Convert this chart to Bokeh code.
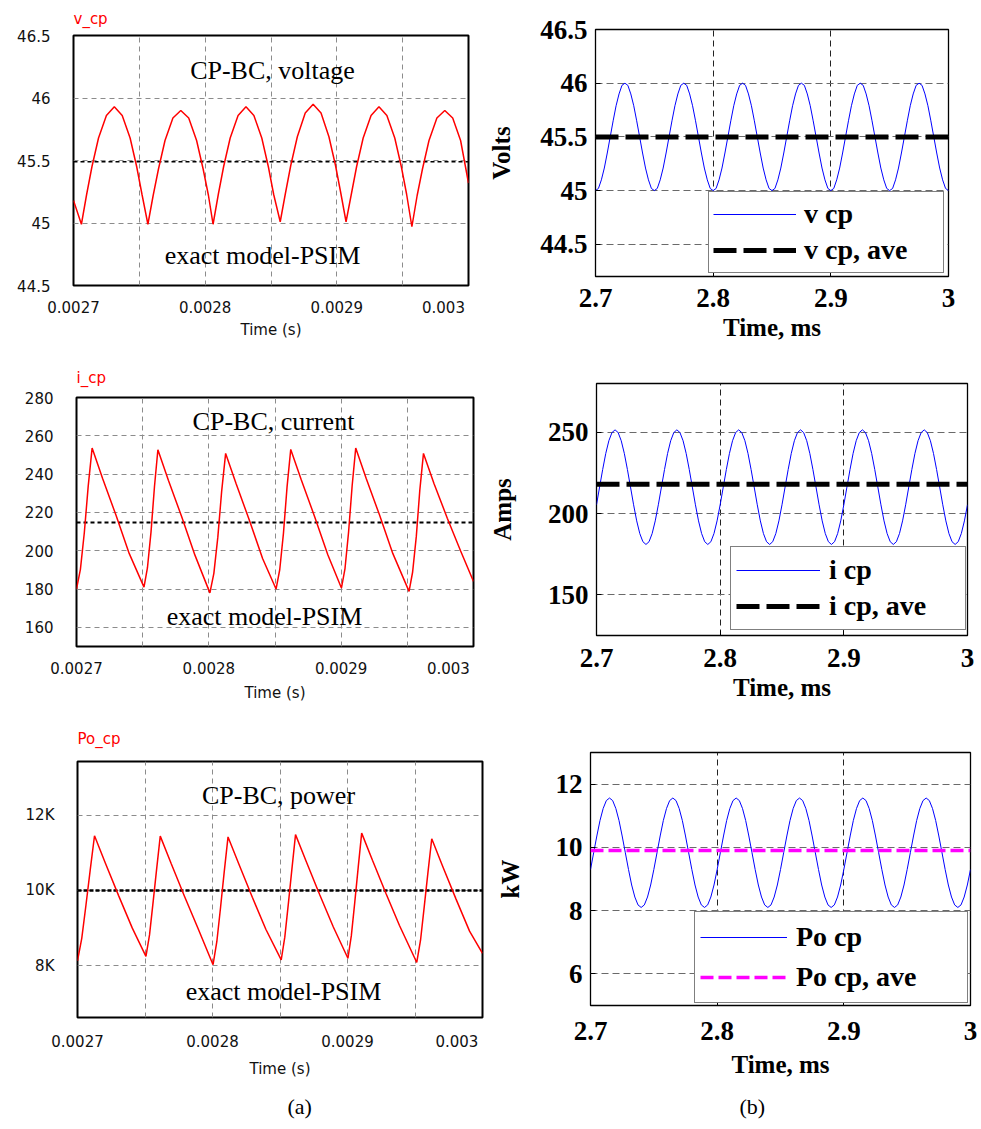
import numpy as np
from bokeh.plotting import figure
from bokeh.layouts import column, row
from bokeh.models import Range1d, FixedTicker, Label, Legend, LegendItem, Title
from bokeh.embed import file_html
from bokeh.resources import INLINE

SERIF = "Liberation Serif"
SANS = "DejaVu Sans"

# ---------------- (a) exact model - PSIM (time in microseconds after 2.7 ms) ----------------
T0_S = 0.0027
v_psim_us = [0, 6, 10, 14, 19, 25, 31, 37, 43, 48, 52,
             56.5, 60.5, 64.5, 69.5, 75.5, 81.5, 87.5, 93.5, 98.5, 102.5,
             106, 110, 114, 119, 125, 131, 137, 143, 148, 152,
             157, 161, 165, 170, 176, 182, 188, 194, 199, 203,
             207, 211, 215, 220, 226, 232, 238, 244, 249, 253,
             257, 261, 265, 270, 276, 282, 288, 294, 300]
v_psim = [45.18, 44.99, 45.23, 45.45, 45.68, 45.86, 45.93, 45.86, 45.68, 45.45, 45.23,
          44.99, 45.22, 45.43, 45.66, 45.84, 45.90, 45.84, 45.66, 45.43, 45.22,
          44.99, 45.23, 45.45, 45.68, 45.86, 45.93, 45.86, 45.68, 45.45, 45.23,
          45.01, 45.24, 45.46, 45.69, 45.88, 45.95, 45.88, 45.69, 45.46, 45.24,
          45.01, 45.23, 45.45, 45.68, 45.86, 45.93, 45.86, 45.68, 45.45, 45.23,
          44.97, 45.22, 45.43, 45.66, 45.84, 45.90, 45.84, 45.66, 45.32]
v_psim_ave = 45.49

i_psim_us = [0, 2.95, 5.9, 8.85, 11.8, 19.8, 29.8, 39.8,
             51, 53.6, 56.3, 58.9, 61.5, 69.5, 79.5, 89.5,
             100.8, 103.8, 106.8, 109.7, 112.7, 120.7, 130.7, 140.7,
             150.8, 153.6, 156.4, 159.1, 161.9, 169.9, 179.9, 189.9,
             200.2, 202.9, 205.6, 208.3, 211.0, 219.0, 229.0, 239.0,
             251.3, 254.0, 256.8, 259.4, 262.2, 270.2, 280.2, 290.2, 300]
i_psim = [180, 190.3, 209.4, 233.7, 253.6, 237.6, 218.6, 198.6,
          181, 191.0, 209.7, 233.3, 252.7, 236.7, 217.7, 197.7,
          178, 188.2, 207.1, 231.1, 250.8, 234.8, 215.8, 195.8,
          180, 190.2, 209.2, 233.2, 252.9, 236.9, 217.9, 197.9,
          180.5, 190.7, 209.7, 233.9, 253.6, 237.6, 218.6, 198.6,
          178.8, 188.9, 207.6, 231.4, 250.8, 235.0, 217.0, 200.0, 184]
i_psim_ave = 214.8

p_psim_us = [0, 3.15, 6.3, 9.45, 12.6, 20.6, 30.6, 40.6,
             50.7, 53.35, 56.0, 58.65, 61.3, 69.3, 79.3, 89.3,
             100.4, 103.2, 106.0, 108.7, 111.5, 119.5, 129.5, 139.5,
             150.9, 153.55, 156.2, 158.85, 161.5, 169.5, 179.5, 189.5,
             200.3, 202.85, 205.4, 207.95, 210.5, 218.5, 228.5, 238.5,
             251.3, 254.1, 256.85, 259.6, 262.4, 270.4, 280.4, 290.4, 300]
p_psim = [8130, 8730, 9620, 10550, 11450, 10730, 9850, 9000,
          8250, 8820, 9690, 10580, 11440, 10720, 9840, 8990,
          8030, 8640, 9560, 10500, 11420, 10700, 9820, 8970,
          8160, 8760, 9650, 10580, 11480, 10760, 9880, 9030,
          8200, 8800, 9690, 10620, 11520, 10800, 9920, 9070,
          8090, 8680, 9570, 10480, 11370, 10650, 9770, 8920, 8330]
p_psim_ave = 10000

# ---------------- (b) averaged model (time in ms, 0.0025 ms steps) ----------------
t_ms = np.linspace(2.7, 3.0, 121)
v_avg = [45.00, 45.02, 45.10, 45.21, 45.35, 45.50, 45.65, 45.79, 45.90, 45.98, 46.00, 45.98, 45.90, 45.79, 45.65, 45.50, 45.35, 45.21, 45.10, 45.02,
         45.00, 45.02, 45.10, 45.21, 45.35, 45.50, 45.65, 45.79, 45.90, 45.98, 46.00, 45.98, 45.90, 45.79, 45.65, 45.50, 45.35, 45.21, 45.10, 45.02,
         45.00, 45.02, 45.10, 45.21, 45.35, 45.50, 45.65, 45.79, 45.90, 45.98, 46.00, 45.98, 45.90, 45.79, 45.65, 45.50, 45.35, 45.21, 45.10, 45.02,
         45.00, 45.02, 45.10, 45.21, 45.35, 45.50, 45.65, 45.79, 45.90, 45.98, 46.00, 45.98, 45.90, 45.79, 45.65, 45.50, 45.35, 45.21, 45.10, 45.02,
         45.00, 45.02, 45.10, 45.21, 45.35, 45.50, 45.65, 45.79, 45.90, 45.98, 46.00, 45.98, 45.90, 45.79, 45.65, 45.50, 45.35, 45.21, 45.10, 45.02,
         45.00, 45.02, 45.10, 45.21, 45.35, 45.50, 45.65, 45.79, 45.90, 45.98, 46.00, 45.98, 45.90, 45.79, 45.65, 45.50, 45.35, 45.21, 45.10, 45.02,
         45.00]
v_avg_ave = 45.5

i_avg = [205.4, 216.3, 227.1, 237.0, 244.8, 249.8, 251.5, 249.8, 244.8, 237.0, 227.1, 216.3, 205.4, 195.5, 187.7, 182.7, 181.0, 182.7, 187.7, 195.5,
         205.4, 216.3, 227.1, 237.0, 244.8, 249.8, 251.5, 249.8, 244.8, 237.0, 227.1, 216.3, 205.4, 195.5, 187.7, 182.7, 181.0, 182.7, 187.7, 195.5,
         205.4, 216.3, 227.1, 237.0, 244.8, 249.8, 251.5, 249.8, 244.8, 237.0, 227.1, 216.3, 205.4, 195.5, 187.7, 182.7, 181.0, 182.7, 187.7, 195.5,
         205.4, 216.3, 227.1, 237.0, 244.8, 249.8, 251.5, 249.8, 244.8, 237.0, 227.1, 216.3, 205.4, 195.5, 187.7, 182.7, 181.0, 182.7, 187.7, 195.5,
         205.4, 216.3, 227.1, 237.0, 244.8, 249.8, 251.5, 249.8, 244.8, 237.0, 227.1, 216.3, 205.4, 195.5, 187.7, 182.7, 181.0, 182.7, 187.7, 195.5,
         205.4, 216.3, 227.1, 237.0, 244.8, 249.8, 251.5, 249.8, 244.8, 237.0, 227.1, 216.3, 205.4, 195.5, 187.7, 182.7, 181.0, 182.7, 187.7, 195.5,
         205.4]
i_avg_ave = 218.0

p_avg = [9.30, 9.83, 10.36, 10.85, 11.23, 11.48, 11.56, 11.48, 11.23, 10.85, 10.36, 9.83, 9.30, 8.81, 8.43, 8.18, 8.10, 8.18, 8.43, 8.81,
         9.30, 9.83, 10.36, 10.85, 11.23, 11.48, 11.56, 11.48, 11.23, 10.85, 10.36, 9.83, 9.30, 8.81, 8.43, 8.18, 8.10, 8.18, 8.43, 8.81,
         9.30, 9.83, 10.36, 10.85, 11.23, 11.48, 11.56, 11.48, 11.23, 10.85, 10.36, 9.83, 9.30, 8.81, 8.43, 8.18, 8.10, 8.18, 8.43, 8.81,
         9.30, 9.83, 10.36, 10.85, 11.23, 11.48, 11.56, 11.48, 11.23, 10.85, 10.36, 9.83, 9.30, 8.81, 8.43, 8.18, 8.10, 8.18, 8.43, 8.81,
         9.30, 9.83, 10.36, 10.85, 11.23, 11.48, 11.56, 11.48, 11.23, 10.85, 10.36, 9.83, 9.30, 8.81, 8.43, 8.18, 8.10, 8.18, 8.43, 8.81,
         9.30, 9.83, 10.36, 10.85, 11.23, 11.48, 11.56, 11.48, 11.23, 10.85, 10.36, 9.83, 9.30, 8.81, 8.43, 8.18, 8.10, 8.18, 8.43, 8.81,
         9.30]
p_avg_ave = 9.9

# tick labels
psim_xticks = [0.0027, 0.0028, 0.0029, 0.002981]
psim_xlabels = ["0.0027", "0.0028", "0.0029", "0.003"]
psim_xgrid = [0.00275, 0.0028, 0.00285, 0.0029, 0.00295]
v_psim_yticks = [44.5, 45, 45.5, 46, 46.5]
v_psim_ylabels = ["44.5", "45", "45.5", "46", "46.5"]
i_psim_yticks = [160, 180, 200, 220, 240, 260, 280]
i_psim_ylabels = ["160", "180", "200", "220", "240", "260", "280"]
p_psim_yticks = [8000, 10000, 12000]
p_psim_ylabels = ["8K", "10K", "12K"]

avg_xticks = [2.7, 2.8, 2.9, 3.0]
avg_xlabels = ["2.7", "2.8", "2.9", "3"]
v_avg_yticks = [44.5, 45, 45.5, 46, 46.5]
v_avg_ylabels = ["44.5", "45", "45.5", "46", "46.5"]
i_avg_yticks = [150, 200, 250]
i_avg_ylabels = ["150", "200", "250"]
p_avg_yticks = [6, 8, 10, 12]
p_avg_ylabels = ["6", "8", "10", "12"]


def psim_panel(w, h, l, r, t, b, yr, yticks, ylabels, ygrid, xstand, xlabstand,
               title, title_standoff):
    p = figure(width=w, height=h, min_border_left=l, min_border_right=r,
               min_border_top=t, min_border_bottom=b,
               x_range=Range1d(0.0027, 0.003), y_range=Range1d(*yr),
               output_backend="svg", toolbar_location=None, tools="")
    p.background_fill_color = "white"
    p.border_fill_color = "white"
    p.outline_line_color = "black"
    p.outline_line_width = 2
    p.title.text = title
    p.title.align = "left"
    p.title.text_color = "#ff0000"
    p.title.text_font = SANS
    p.title.text_font_size = "15px"
    p.title.text_font_style = "normal"
    p.title.standoff = title_standoff
    p.xaxis.ticker = FixedTicker(ticks=psim_xticks)
    p.xaxis.major_label_overrides = dict(zip(psim_xticks, psim_xlabels))
    p.yaxis.ticker = FixedTicker(ticks=yticks)
    p.yaxis.major_label_overrides = dict(zip(yticks, ylabels))
    p.xgrid.ticker = FixedTicker(ticks=psim_xgrid)
    p.ygrid.ticker = FixedTicker(ticks=ygrid)
    for g in (p.xgrid, p.ygrid):
        g.grid_line_color = "#8c8c8c"
        g.grid_line_dash = "5 4"
        g.grid_line_width = 1
    for ax in (p.xaxis, p.yaxis):
        ax.axis_line_color = None
        ax.major_tick_line_color = None
        ax.minor_tick_line_color = None
        ax.major_tick_out = 0
        ax.major_tick_in = 0
        ax.major_label_text_font = SANS
        ax.major_label_text_font_size = "15px"
        ax.major_label_text_color = "#111111"
    p.yaxis.major_label_standoff = 23
    p.xaxis.major_label_standoff = xstand
    p.xaxis.axis_label = "Time (s)"
    p.xaxis.axis_label_text_font = SANS
    p.xaxis.axis_label_text_font_size = "15px"
    p.xaxis.axis_label_text_font_style = "normal"
    p.xaxis.axis_label_text_color = "#111111"
    p.xaxis.axis_label_standoff = xlabstand
    return p


def add_text(p, x, y, text, font, size, color="black", align="center"):
    p.add_layout(Label(x=x, y=y, x_units="screen", y_units="screen", text=text,
                       text_font=font, text_font_size=size, text_color=color,
                       text_align=align, text_baseline="middle"))


def add_caption(p, text, offset, standoff):
    p.add_layout(Title(text=text, align="left", offset=offset, standoff=standoff,
                       text_font=SERIF, text_font_size="22px",
                       text_font_style="normal", text_color="black"), "below")


def avg_panel(w, h, l, r, t, b, yr, yticks, ylabels, ylabel, ylabstand, xstand, xlabstand):
    p = figure(width=w, height=h, min_border_left=l, min_border_right=r,
               min_border_top=t, min_border_bottom=b, title=None,
               x_range=Range1d(2.7, 3.0), y_range=Range1d(*yr),
               output_backend="svg", toolbar_location=None, tools="")
    p.background_fill_color = "white"
    p.border_fill_color = "white"
    p.outline_line_color = "black"
    p.outline_line_width = 1.3
    p.xaxis.ticker = FixedTicker(ticks=avg_xticks)
    p.xaxis.major_label_overrides = dict(zip(avg_xticks, avg_xlabels))
    p.yaxis.ticker = FixedTicker(ticks=yticks)
    p.yaxis.major_label_overrides = dict(zip(yticks, ylabels))
    p.xgrid.ticker = FixedTicker(ticks=[2.8, 2.9])
    p.xgrid.grid_line_color = "#222222"
    p.xgrid.grid_line_dash = "6 4"
    p.ygrid.grid_line_color = "#6a6a6a"
    p.ygrid.grid_line_dash = "7 4"
    for ax in (p.xaxis, p.yaxis):
        ax.axis_line_color = None
        ax.major_tick_line_color = "black"
        ax.major_tick_in = 5
        ax.major_tick_out = 0
        ax.minor_tick_line_color = None
        ax.major_label_text_font = SERIF
        ax.major_label_text_font_style = "bold"
        ax.major_label_text_font_size = "27px"
        ax.major_label_text_color = "black"
        ax.axis_label_text_font = SERIF
        ax.axis_label_text_font_style = "bold"
        ax.axis_label_text_font_size = "25px"
        ax.axis_label_text_color = "black"
    p.yaxis.major_label_standoff = 8
    p.yaxis.axis_label = ylabel
    p.yaxis.axis_label_standoff = ylabstand
    p.xaxis.major_label_standoff = xstand
    p.xaxis.axis_label = "Time, ms"
    p.xaxis.axis_label_standoff = xlabstand
    return p


def add_legend(p, items, loc, gw, lw, pad, rowh, standoff):
    leg = Legend(items=items, location=loc, glyph_width=gw, glyph_height=rowh,
                 label_height=rowh, label_width=lw, label_standoff=standoff,
                 padding=pad, spacing=0, margin=0,
                 label_text_font=SERIF, label_text_font_style="bold",
                 label_text_font_size="28px", label_text_color="black",
                 border_line_color="black", border_line_width=1.5,
                 background_fill_color="white", background_fill_alpha=1.0)
    p.add_layout(leg)


tv = T0_S + np.array(v_psim_us) * 1e-6
ti = T0_S + np.array(i_psim_us) * 1e-6
tp = T0_S + np.array(p_psim_us) * 1e-6

# ---- (a) voltage
p1 = psim_panel(485, 345, 73, 17, 35, 60, (44.5, 46.5), v_psim_yticks, v_psim_ylabels,
                [45, 45.5, 46], 15, 5, "v_cp", 15)
p1.line([tv[0], tv[-1]], [v_psim_ave, v_psim_ave], line_color="black", line_width=1.5, line_dash="4 3")
p1.line(tv, v_psim, line_color="#ff0000", line_width=1.5)
add_text(p1, 199, 215, "CP-BC, voltage", SERIF, "26px")
add_text(p1, 189, 30, "exact model-PSIM", SERIF, "26px")

# ---- (a) current
p3 = psim_panel(485, 360, 76, 12, 52, 59, (150, 280), i_psim_yticks, i_psim_ylabels,
                [160, 180, 200, 220, 240, 260], 15, 7, "i_cp", 22)
p3.line([ti[0], ti[-1]], [i_psim_ave, i_psim_ave], line_color="black", line_width=2, line_dash="4 3")
p3.line(ti, i_psim, line_color="#ff0000", line_width=1.5)
add_text(p3, 197, 225, "CP-BC, current", SERIF, "26px")
add_text(p3, 188, 30, "exact model-PSIM", SERIF, "26px")

# ---- (a) power
p5 = psim_panel(485, 424, 77, 3, 56, 110, (6630, 13420), p_psim_yticks, p_psim_ylabels,
                p_psim_yticks, 17, 10, "Po_cp", 27)
p5.line([tp[0], tp[-1]], [p_psim_ave, p_psim_ave], line_color="black", line_width=2.5, line_dash="4 2")
p5.line(tp, p_psim, line_color="#ff0000", line_width=1.5)
add_text(p5, 201, 222, "CP-BC, power", SERIF, "26px")
add_text(p5, 206, 26, "exact model-PSIM", SERIF, "26px")
add_caption(p5, "(a)", 210, 22)

# ---- (b) voltage
p2 = avg_panel(496, 345, 110, 33, 29, 69, (44.2, 46.5), v_avg_yticks, v_avg_ylabels,
               "Volts", 22, 12, 4)
r2a = p2.line(t_ms, v_avg, line_color="#0000ff", line_width=1)
r2b = p2.line([t_ms[0], t_ms[-1]], [v_avg_ave, v_avg_ave], line_color="black", line_width=5, line_dash="23 7")
add_legend(p2, [LegendItem(label="v cp", renderers=[r2a]),
                LegendItem(label="v cp, ave", renderers=[r2b])],
           (113, 3), 83, 135, 4, 36, 8)

# ---- (b) current
p4 = avg_panel(496, 360, 110, 14, 38, 70, (125, 280), i_avg_yticks, i_avg_ylabels,
               "Amps", 29, 13, 4)
r4a = p4.line(t_ms, i_avg, line_color="#0000ff", line_width=1)
r4b = p4.line([t_ms[0], t_ms[-1]], [i_avg_ave, i_avg_ave], line_color="black", line_width=5, line_dash="23 7")
add_legend(p4, [LegendItem(label="i cp", renderers=[r4a]),
                LegendItem(label="i cp, ave", renderers=[r4b])],
           (134, 5), 84, 131, 5, 36, 9)

# ---- (b) power
p6 = avg_panel(496, 424, 105, 11, 47, 123, (5, 13), p_avg_yticks, p_avg_ylabels,
               "kW", 29, 16, 8)
r6a = p6.line(t_ms, p_avg, line_color="#0000ff", line_width=1)
r6b = p6.line([t_ms[0], t_ms[-1]], [p_avg_ave, p_avg_ave], line_color="#ff00ff", line_width=3.5, line_dash="13 5")
add_legend(p6, [LegendItem(label="Po cp", renderers=[r6a]),
                LegendItem(label="Po cp, ave", renderers=[r6b])],
           (104, 2), 87, 166, 5, 40, 9)
add_caption(p6, "(b)", 149, 22)

layout = column(row(column(p1), column(p2)),
                row(column(p3), column(p4)),
                row(column(p5), column(p6)))
open("out.html", "w").write(file_html(layout, INLINE))
